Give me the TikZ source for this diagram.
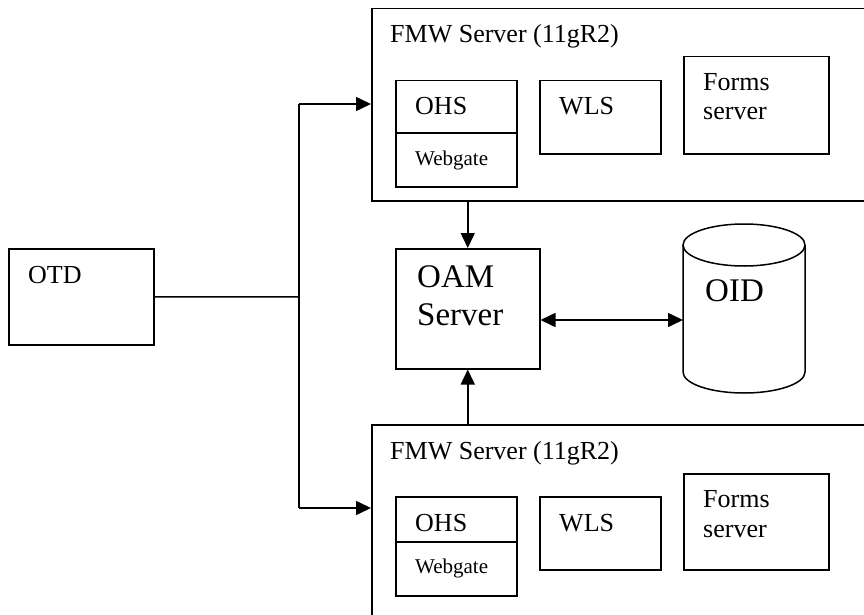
\documentclass[tikz,border=0pt]{standalone}
\usepackage{fontspec}
\setmainfont{Liberation Serif}
\newfontfamily\tnr{Liberation Serif}
\usetikzlibrary{arrows.meta}
\begin{document}
\begin{tikzpicture}[x=1pt,y=-1pt,
 box/.style={draw,line width=1.5pt,inner sep=0pt,anchor=north west},
 txt/.style={inner sep=0pt,anchor=base west,font=\tnr\fontsize{26}{30}\selectfont},
 big/.style={txt,font=\tnr\fontsize{33}{38}\selectfont},
 small/.style={txt,font=\tnr\fontsize{21}{24}\selectfont},
 line/.style={line width=1.5pt},
 arr/.style={line,-{Triangle[length=15pt,width=14pt]}},
 darr/.style={line,{Triangle[length=15pt,width=14pt]}-{Triangle[length=15pt,width=14pt]}}]
\useasboundingbox (0,0) rectangle (864,615);
\clip (0,0) rectangle (864,615);
\fill[white] (0,0) rectangle (864,615);
% top server
\node[box,minimum width=520pt,minimum height=192pt] (fmw1) at (371,8) {};
\node[box,minimum width=121pt,minimum height=52pt] (ohs1) at (395,80) {};
\node[box,minimum width=121pt,minimum height=54pt] (web1) at (395,132) {};
\node[box,minimum width=121pt,minimum height=73pt] (wls1) at (539,80) {};
\node[box,minimum width=145pt,minimum height=97pt] (forms1) at (683,56) {};
\node[txt] (t1) at (390,43) {FMW Server (11gR2)};
\node[txt] (t2) at (415,115) {OHS};
\node[small] (t3) at (415,165) {Webgate};
\node[txt] (t4) at (559,115) {WLS};
\node[txt] (t5) at (703,91) {Forms};
\node[txt] (t6) at (703,120) {server};
% bottom server
\node[box,minimum width=520pt,minimum height=250pt] (fmw2) at (371,424) {};
\node[box,minimum width=121pt,minimum height=45pt] (ohs2) at (395,496) {};
\node[box,minimum width=121pt,minimum height=54pt] (web2) at (395,541) {};
\node[box,minimum width=121pt,minimum height=73pt] (wls2) at (539,496) {};
\node[box,minimum width=145pt,minimum height=96pt] (forms2) at (683,473) {};
\node[txt] (b1) at (390,459) {FMW Server (11gR2)};
\node[txt] (b2) at (415,531) {OHS};
\node[small] (b3) at (415,573) {Webgate};
\node[txt] (b4) at (559,531) {WLS};
\node[txt] (b5) at (703,507) {Forms};
\node[txt] (b6) at (703,537) {server};
% OTD
\node[box,minimum width=145pt,minimum height=96pt] (otd) at (8,248) {};
\node[txt] (otdt) at (28,283) {OTD};
% OAM
\node[box,minimum width=144pt,minimum height=120pt] (oam) at (395,248) {};
\node[big] (oamt1) at (417,287) {OAM};
\node[big] (oamt2) at (417,325) {Server};
% OID cylinder
\node[inner sep=0pt,minimum width=122pt,minimum height=170pt,anchor=north west] (oid) at (683,223) {};
\draw[line] (683,245) -- (683,372) arc[start angle=180,end angle=360,x radius=61pt,y radius=21pt] -- (805,245);
\draw[line] (744,245) ellipse [x radius=61pt,y radius=21pt];
\node[big] (oidt) at (705,301) {OID};
% connectors
\coordinate (j1) at (299,104);
\coordinate (jm) at (299,297);
\coordinate (j2) at (299,508);
\coordinate (ay) at (0,320);
\draw[line] (otd.east) -- (jm);
\draw[line] (j1) -- (j2);
\draw[arr] (j1) -- (j1 -| fmw1.west);
\draw[arr] (j2) -- (j2 -| fmw2.west);
\draw[arr] (fmw1.south -| oam.north) -- (oam.north);
\draw[arr] (fmw2.north -| oam.south) -- (oam.south);
\draw[darr] (oam.east |- ay) -- (oid.west |- ay);
\end{tikzpicture}
\end{document}
